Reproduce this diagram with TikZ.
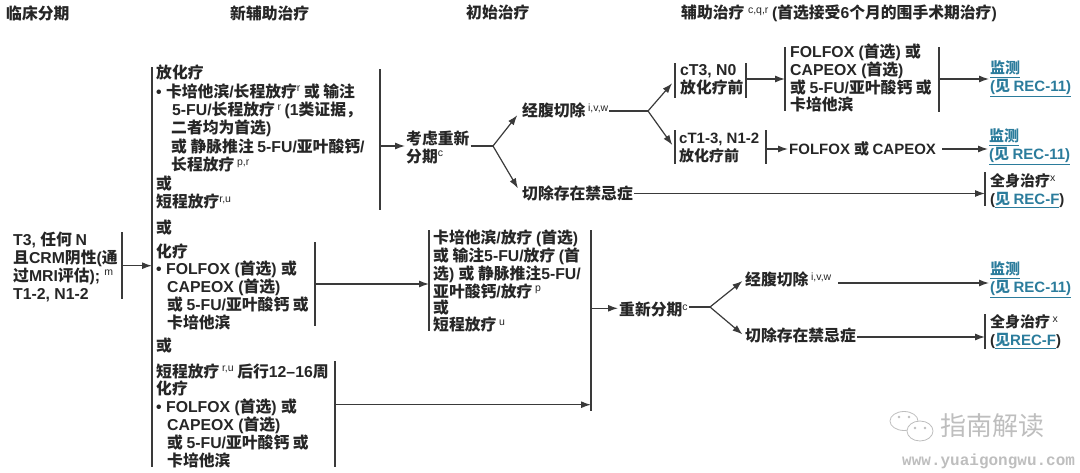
\documentclass[tikz,border=0pt]{standalone}
\usepackage{xcolor}
\usepackage{fontspec}
\setmainfont{Liberation Sans}
\newfontfamily\cjk{Noto Sans CJK SC}
\newfontfamily\wmfont{Liberation Mono}
\newXeTeXintercharclass\hanclass
\makeatletter
\count@="4E00
\loop\XeTeXcharclass\count@=\hanclass
\ifnum\count@<"9FFF\advance\count@ by 1\repeat
\makeatother
\XeTeXcharclass`，=\hanclass
\XeTeXinterchartokenstate=1
\XeTeXinterchartoks 0 \hanclass={\cjk}
\XeTeXinterchartoks 4095 \hanclass={\cjk}
\XeTeXinterchartoks \hanclass 0={\rmfamily}
\XeTeXinterchartoks 4095 0={\rmfamily}
\usetikzlibrary{arrows.meta}
\definecolor{inkcol}{HTML}{262626}
\definecolor{linecol}{HTML}{3A3A3A}
\definecolor{linkcol}{HTML}{2B7C9C}
\definecolor{markcol}{HTML}{BEBEBE}
\newcommand{\sps}[1]{\raisebox{.62ex}{\fontsize{10.5}{10.5}\selectfont\rmfamily\mdseries #1}}
\newcommand{\lk}[1]{\textcolor{linkcol}{\underline{#1}}}
\newcommand{\lead}[1]{\fontsize{15.8}{#1}\selectfont\bfseries}
\newcommand{\wmon}{\XeTeXinterchartokenstate=0\relax\wmfont\fontsize{16}{16}\selectfont\bfseries}
\tikzset{>={Latex[length=10pt,width=7pt]},
  txt/.style={anchor=west,align=left,inner sep=1pt,text=inkcol,font=\lead{18}},
  barline/.style={rectangle,fill=linecol,inner sep=0pt,minimum width=1.4pt},
  conn/.style={draw=linecol,line width=1.2pt}}
\begin{document}
\begin{tikzpicture}[x=1pt,y=-1pt]
  \useasboundingbox (0,0) rectangle (1080,473);
  \node[txt] (hStage) at (5,13.5) {临床分期};
  \node[txt] (hNeo) at (229,13.5) {新辅助治疗};
  \node[txt] (hInit) at (465,12.5) {初始治疗};
  \node[txt] (hAdj) at (680,13.5) {辅助治疗 \sps{c,q,r} (首选接受6个月的围手术期治疗)};

  \node[txt] (stage) at (12,266.5) {T3, 任何 N\\且CRM阴性(通\\过MRI评估); \sps{m}\\T1-2, N1-2};
  \node[barline,minimum height=67] (bStage) at (122,265.5) {};
  \node[barline,minimum height=400] (bNeo) at (152,267) {};
  \coordinate (rStage) at (0,265.7);
  \draw[conn,->] (bStage |- rStage) -- (bNeo |- rStage);

  \node[txt,font=\lead{18.4}] (crt) at (155,137) {放化疗\\
    • 卡培他滨/长程放疗\sps{r}\ 或 输注\\
    \hspace*{16pt}5-FU/长程放疗\,\sps{r} (1类证据，\\
    \hspace*{15pt}二者均为首选)\\
    \hspace*{15pt}或 静脉推注 5-FU/亚叶酸钙/\\
    \hspace*{15pt}长程放疗\,\sps{p,r}\\
    或\\
    短程放疗\sps{r,u}};
  \node[txt] (orA) at (155,228) {或};
  \node[txt,font=\lead{17.75}] (chemoA) at (155,286.5) {化疗\\
    • FOLFOX (首选) 或\\
    \hspace*{11pt}CAPEOX (首选)\\
    \hspace*{11pt}或 5-FU/亚叶酸钙 或\\
    \hspace*{11pt}卡培他滨};
  \node[txt] (orB) at (155,345.7) {或};
  \node[txt,font=\lead{17.8}] (chemoB) at (155,415.5) {短程放疗\,\sps{r,u} 后行12–16周\\
    化疗\\
    • FOLFOX (首选) 或\\
    \hspace*{11pt}CAPEOX (首选)\\
    \hspace*{11pt}或 5-FU/亚叶酸钙 或\\
    \hspace*{11pt}卡培他滨};
  \node[barline,minimum height=141] (bCrt) at (380,140) {};
  \node[barline,minimum height=84] (bChemoA) at (315,284) {};
  \node[barline,minimum height=106] (bChemoB) at (335,414) {};

  \node[txt] (restageA) at (405,147) {考虑重新\\分期\sps{c}};
  \coordinate (rCrt) at (0,146);
  \draw[conn,->] (bCrt |- rCrt) -- (restageA.west |- rCrt);
  \coordinate (jA) at (493,146);
  \draw[conn] (restageA.east |- rCrt) -- (jA);
  \node[txt] (surgA) at (521,110.5) {经腹切除\,\sps{i,v,w}};
  \node[txt] (contraA) at (521,193.5) {切除存在禁忌症};
  \draw[conn,->,shorten >=6pt] (jA) -- (surgA.west);
  \draw[conn,->,shorten >=6pt] (jA) -- (contraA.west);

  \coordinate (jB) at (648,111);
  \draw[conn] (surgA.east |- jB) -- (jB);
  \node[barline,minimum height=35] (bN0l) at (675,81) {};
  \node[txt] (n0) at (679,80) {cT3, N0\\放化疗前};
  \node[barline,minimum height=35] (bN0r) at (746,81) {};
  \node[barline,minimum height=34] (bN1l) at (675,147.5) {};
  \node[txt,font=\fontsize{15}{18}\selectfont\bfseries] (n1) at (678,148) {cT1-3, N1-2\\放化疗前};
  \node[barline,minimum height=34] (bN1r) at (766,147.5) {};
  \draw[conn,->,shorten >=3pt] (jB) -- (bN0l.west);
  \draw[conn,->,shorten >=3pt] (jB) -- (bN1l.west);

  \node[barline,minimum height=63.5] (bAdjl) at (785,79) {};
  \node[txt,font=\lead{16.7}] (adj) at (789,78) {FOLFOX (首选) 或\\CAPEOX (首选)\\或 5-FU/亚叶酸钙 或\\卡培他滨};
  \node[barline,minimum height=64.5] (bAdjr) at (939,79.5) {};
  \coordinate (rN0) at (0,79);
  \draw[conn,->] (bN0r |- rN0) -- (bAdjl |- rN0);
  \node[txt,font=\fontsize{15}{18}\selectfont\bfseries] (mon1) at (989,79) {\lk{监测}\\\lk{(见 REC-11)}};
  \draw[conn,->] (bAdjr |- rN0) -- (mon1.west |- rN0);

  \node[txt,font=\fontsize{15}{18}\selectfont\bfseries] (adjB) at (788,149) {FOLFOX 或 CAPEOX};
  \node[txt,font=\fontsize{15}{18}\selectfont\bfseries] (mon2) at (988,147) {\lk{监测}\\\lk{(见 REC-11)}};
  \draw[conn,->] (bN1r.east |- adjB.west) -- (adjB.west);
  \draw[conn,->] (adjB.east) ++(5,0) -- (mon2.west |- adjB.east);

  \node[barline,minimum height=34] (bSys1) at (985,189) {};
  \node[txt,font=\fontsize{15}{18}\selectfont\bfseries] (sys1) at (989,190.5) {全身治疗\sps{x}\\(\lk{见 REC-F})};
  \draw[conn,->] (contraA.east) -- (bSys1 |- contraA.east);

  \node[barline,minimum height=101] (bMidl) at (429,280.5) {};
  \node[txt,font=\lead{16.6}] (mid) at (432,281) {卡培他滨/放疗 (首选)\\
    或 输注5-FU/放疗 (首\\
    选) 或 静脉推注5-FU/\\
    亚叶酸钙/放疗\,\sps{p}\\
    或\\
    短程放疗\,\sps{u}};
  \node[barline,minimum height=181] (bMidr) at (591,320.5) {};
  \coordinate (rChemoA) at (0,284);
  \draw[conn,->] (bChemoA |- rChemoA) -- (bMidl |- rChemoA);
  \coordinate (rChemoB) at (0,404.7);
  \draw[conn,->] (bChemoB |- rChemoB) -- (bMidr |- rChemoB);

  \node[txt] (restageB) at (618,309.7) {重新分期\sps{c}};
  \coordinate (jC) at (710,307);
  \coordinate (rMid) at (0,308.3);
  \draw[conn,->] (bMidr |- rMid) -- (restageB.west |- rMid);
  \draw[conn] (restageB.east |- jC) -- (jC);
  \node[txt] (surgB) at (744,279.7) {经腹切除\,\sps{i,v,w}};
  \node[txt] (contraB) at (744,335.7) {切除存在禁忌症};
  \draw[conn,->,shorten >=2pt] (jC) -- (surgB.west);
  \draw[conn,->,shorten >=2pt] (jC) -- (contraB.west);
  \node[txt,font=\fontsize{15}{18}\selectfont\bfseries] (mon3) at (989,280) {\lk{监测}\\\lk{(见 REC-11)}};
  \coordinate (rSurgB) at (0,283);
  \draw[conn,->] (surgB.east |- rSurgB) ++(6,0) -- (mon3.west |- rSurgB);
  \node[barline,minimum height=35] (bSys2) at (985,331.5) {};
  \node[txt,font=\fontsize{15}{18}\selectfont\bfseries] (sys2) at (989,331.5) {全身治疗\,\sps{x}\\(\lk{见REC-F})};
  \coordinate (rContraB) at (0,337);
  \draw[conn,->] (contraB.east |- rContraB) -- (bSys2 |- rContraB);

  \draw[markcol,line width=.8pt,fill=white] (904,421) ellipse [x radius=14,y radius=9.5];
  \draw[markcol,line width=.8pt,fill=white] (920,431) ellipse [x radius=13,y radius=10];
  \foreach \ex/\ey in {899/417,909/417,915/428,925/428}
    \fill[markcol] (\ex,\ey) circle [radius=1.3];
  \node[txt,text=markcol,font=\fontsize{26}{26}\selectfont\mdseries] (wmTitle) at (939,425.7) {指南解读};
  \node[txt,text=markcol,font=\wmon] (wmSite) at (901,461) {www.yuaigongwu.com};
\end{tikzpicture}
\end{document}
